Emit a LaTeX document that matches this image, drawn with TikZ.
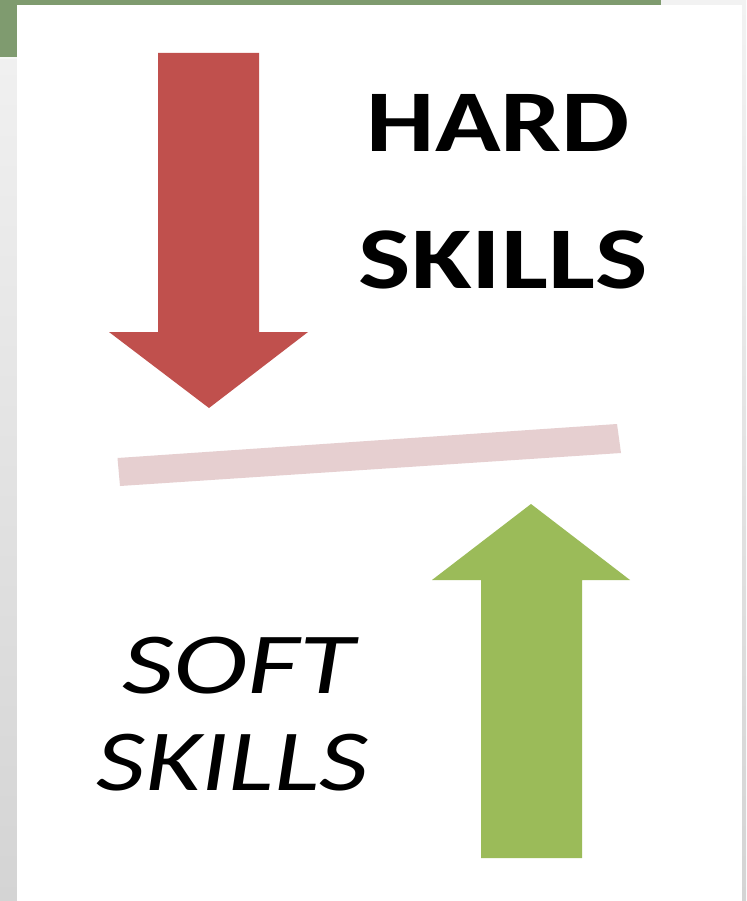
\documentclass[tikz,border=0pt]{standalone}
\usepackage{fontspec}
\setmainfont{Carlito}
\definecolor{barGreen}{RGB}{127,155,111}
\definecolor{arrowRed}{RGB}{192,80,77}
\definecolor{arrowGreen}{RGB}{155,187,89}
\definecolor{beamPink}{RGB}{230,207,208}
\definecolor{bgTop}{RGB}{242,242,242}
\definecolor{bgBottom}{RGB}{212,212,212}
\tikzset{
  hardtext/.style={inner sep=0pt, anchor=base, font=\fontsize{88}{100}\selectfont\bfseries},
  softtext/.style={inner sep=0pt, anchor=base, font=\fontsize{87}{100}\selectfont\itshape},
  redarrow/.style={fill=arrowRed, draw=none},
  greenarrow/.style={fill=arrowGreen, draw=none},
  beam/.style={fill=beamPink, draw=none}
}
\begin{document}
\begin{tikzpicture}[x=1pt,y=-1pt]
\useasboundingbox (0,0) rectangle (746,901);
% background
\shade[top color=bgTop, bottom color=bgBottom] (0,0) rectangle (746,901);
\fill[barGreen] (0,0) rectangle (661,5);
\fill[barGreen] (0,0) rectangle (17,57);
\fill[white!92!barGreen] (0,57) rectangle (17,59);
\fill[white] (17,5) rectangle (742,901);
% red arrow
\fill[redarrow] (158,53) -- (259,53) -- (259,332) -- (308,332) -- (209,408)
  -- (109,332) -- (158,332) -- cycle;
% beam
\fill[beam] (117.5,458) -- (617,424) -- (621,453) -- (120,486) -- cycle;
% green arrow
\fill[greenarrow] (481,858) -- (582,858) -- (582,580) -- (630,580) -- (531,504)
  -- (432,580) -- (481,580) -- cycle;
% texts
\node[hardtext] (hard1) at (498.5,152) {\scalebox{1.23}[1]{HARD}};
\node[hardtext] (hard2) at (503,288) {\scalebox{1.26}[1]{SKILLS}};
\node[softtext] (soft1) at (238.5,693) {\scalebox{1.3}[1]{SOFT}};
\node[softtext] (soft2) at (232.5,790) {\scalebox{1.24}[1]{SKILLS}};
\end{tikzpicture}
\end{document}
